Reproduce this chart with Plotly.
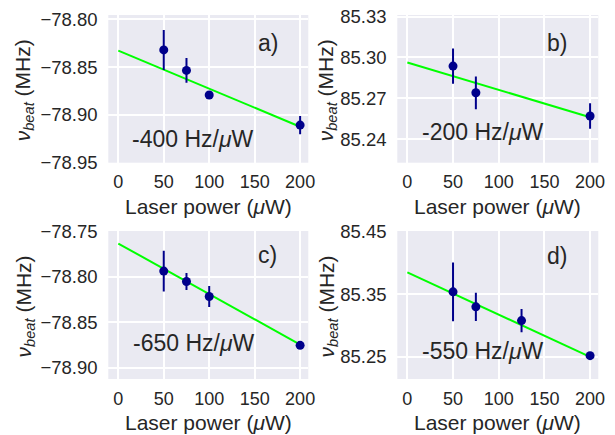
import plotly.graph_objects as go

W, H = 615, 435

# ---- data ----
power_a = [50, 75, 100, 200]
freq_a = [-78.8320, -78.8535, -78.8794, -78.9110]
err_a = [0.021, 0.013, 0.004, 0.0095]

power_b = [50, 75, 200]
freq_b = [85.2936, 85.2740, 85.2570]
err_b = [0.013, 0.012, 0.0094]

power_c = [50, 75, 100, 200]
freq_c = [-78.7935, -78.8050, -78.8215, -78.8754]
err_c = [0.0225, 0.0093, 0.0116, 0.003]

power_d = [50, 75, 125, 200]
freq_d = [85.3540, 85.3300, 85.3080, 85.2518]
err_d = [0.047, 0.0227, 0.0187, 0.006]

fit_x = [0, 200]
fit_a = [-78.8328, -78.9127]
fit_b = [85.2963, 85.2561]
fit_c = [-78.7631, -78.8746]
fit_d = [85.3852, 85.2500]

slope_labels = ["-400 Hz/<i>μ</i>W", "-200 Hz/<i>μ</i>W", "-650 Hz/<i>μ</i>W", "-550 Hz/<i>μ</i>W"]
panel_labels = ["a)", "b)", "c)", "d)"]

x_ticks = [0, 50, 100, 150, 200]
y_ticks = [
    [-78.95, -78.90, -78.85, -78.80],
    [85.24, 85.27, 85.30, 85.33],
    [-78.90, -78.85, -78.80, -78.75],
    [85.25, 85.35, 85.45],
]
y_ranges = [
    [-78.9505, -78.7953],
    [85.2227, 85.3311],
    [-78.9125, -78.7493],
    [85.2145, 85.4513],
]
x_range = [-11, 209]

# ---- layout geometry (pixels) ----
boxes = [  # x0, x1, ytop, ybottom
    (108.3, 308.3, 15.0, 162.7),
    (397.3, 598.3, 15.0, 162.7),
    (108.3, 308.3, 231.0, 379.0),
    (397.3, 598.3, 231.0, 379.0),
]

def px(x):
    return x / W

def py(y):
    return 1 - y / H

FONT = "Liberation Sans, Arial, sans-serif"
TXT = "#262626"
MARK = "#00008B"
GREEN = "#00FF00"

data = [
    (power_a, freq_a, err_a, fit_a),
    (power_b, freq_b, err_b, fit_b),
    (power_c, freq_c, err_c, fit_c),
    (power_d, freq_d, err_d, fit_d),
]

fig = go.Figure()
layout = dict(
    width=W, height=H,
    margin=dict(l=0, r=0, t=0, b=0),
    paper_bgcolor="white",
    plot_bgcolor="#EAEAF2",
    showlegend=False,
    font=dict(family=FONT, color=TXT, size=18),
)

annotations = []
slope_pos = [(193.3, 139.0), (482.5, 131.7), (193.7, 343.0), (482.5, 350.8)]
label_pos = [(267.5, 42.5), (556.7, 42.5), (267.5, 255.0), (556.7, 256.0)]

for i, (xs, ys, es, fy) in enumerate(data):
    n = "" if i == 0 else str(i + 1)
    xa, ya = "x" + n, "y" + n
    fig.add_trace(go.Scatter(
        x=fit_x, y=fy, mode="lines", xaxis=xa, yaxis=ya,
        line=dict(color=GREEN, width=2), hoverinfo="skip"))
    fig.add_trace(go.Scatter(
        x=xs, y=ys, mode="markers", xaxis=xa, yaxis=ya,
        marker=dict(color=MARK, size=9),
        error_y=dict(type="data", array=es, visible=True, color=MARK,
                     thickness=2, width=0)))
    x0, x1, yt, yb = boxes[i]
    layout["xaxis" + n] = dict(
        domain=[px(x0), px(x1)], anchor=ya, range=x_range,
        tickvals=x_ticks, ticktext=[str(v) for v in x_ticks],
        showgrid=True, gridcolor="white", gridwidth=1.5,
        zeroline=False, showline=False,
        ticks="outside", ticklen=3, tickcolor="rgba(0,0,0,0)",
        tickfont=dict(size=18, color=TXT, family=FONT),
        automargin=False, fixedrange=True)
    layout["yaxis" + n] = dict(
        domain=[py(yb), py(yt)], anchor=xa, range=y_ranges[i],
        tickvals=y_ticks[i],
        ticktext=[("\u2212" if v < 0 else "") + f"{abs(v):.2f}" for v in y_ticks[i]],
        showgrid=True, gridcolor="white", gridwidth=1.5,
        zeroline=False, showline=False,
        ticks="outside", ticklen=6, tickcolor="rgba(0,0,0,0)",
        tickfont=dict(size=18.5, color=TXT, family=FONT),
        automargin=False, fixedrange=True)

    # x axis title
    annotations.append(dict(
        text="Laser power (<i>μ</i>W)", xref="paper", yref="paper",
        x=px((x0 + x1) / 2), y=py(yb + 43.5), xanchor="center", yanchor="middle",
        showarrow=False, font=dict(size=21, color=TXT, family=FONT)))
    # y axis title
    ytx = 24.0 if i % 2 == 0 else 327.0
    annotations.append(dict(
        text="<i>ν</i><sub><i>beat</i></sub> (MHz)", xref="paper", yref="paper",
        x=px(ytx), y=py((yt + yb) / 2 + 1.5), xanchor="center", yanchor="middle",
        textangle=-90, showarrow=False, font=dict(size=21, color=TXT, family=FONT)))
    # slope text
    sx, sy = slope_pos[i]
    annotations.append(dict(
        text=slope_labels[i], xref="paper", yref="paper",
        x=px(sx), y=py(sy), xanchor="center", yanchor="middle",
        showarrow=False, font=dict(size=23, color=TXT, family=FONT)))
    lx, ly = label_pos[i]
    annotations.append(dict(
        text=panel_labels[i], xref="paper", yref="paper",
        x=px(lx), y=py(ly), xanchor="center", yanchor="middle",
        showarrow=False, font=dict(size=23, color=TXT, family=FONT)))

layout["annotations"] = annotations
fig.update_layout(**layout)
fig.write_html("out.html")
